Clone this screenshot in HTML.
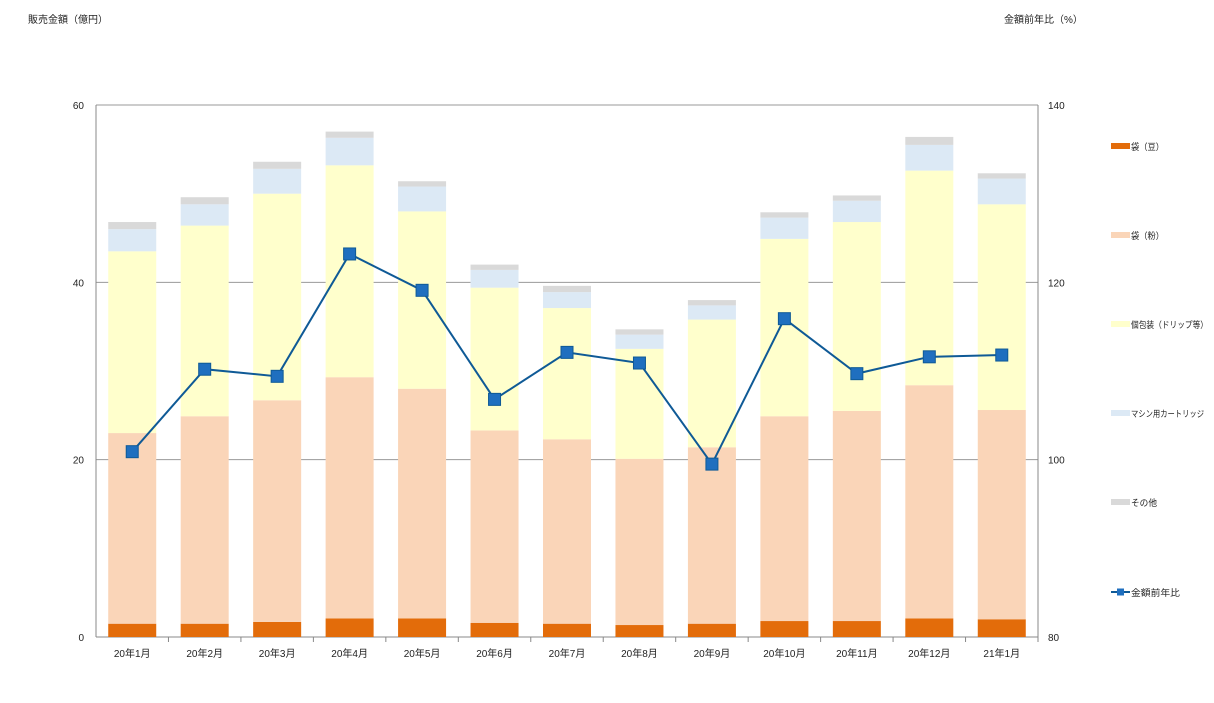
<!DOCTYPE html>
<html><head><meta charset="utf-8">
<style>
html,body{margin:0;padding:0;background:#fff;}
body{width:1214px;height:698px;overflow:hidden;font-family:"Liberation Sans","Noto Sans CJK JP",sans-serif;}
svg text{font-family:"Liberation Sans","Noto Sans CJK JP",sans-serif;font-size:10px;fill:#222;}
</style></head>
<body>
<svg id="chart" width="1214" height="698">
</svg>
<script>
const categories=["20年1月","20年2月","20年3月","20年4月","20年5月","20年6月","20年7月","20年8月","20年9月","20年10月","20年11月","20年12月","21年1月"];
const beans=[1.5,1.5,1.7,2.1,2.1,1.6,1.5,1.35,1.5,1.8,1.8,2.1,2.0];
const powder=[21.5,23.4,25.0,27.2,25.9,21.7,20.8,18.75,19.9,23.1,23.7,26.3,23.6];
const drip=[20.5,21.5,23.3,23.9,20.0,16.1,14.8,12.4,14.4,20.0,21.3,24.2,23.2];
const cartridge=[2.5,2.4,2.8,3.1,2.8,2.0,1.8,1.6,1.6,2.4,2.4,2.9,2.9];
const other=[0.8,0.8,0.8,0.7,0.6,0.6,0.7,0.6,0.6,0.6,0.6,0.9,0.6];
const yoy=[100.9,110.2,109.4,123.2,119.1,106.8,112.1,110.9,99.5,115.9,109.7,111.6,111.8];
const leftTicks=[0,20,40,60];
const rightTicks=[80,100,120,140];

const svg=document.getElementById('chart');
const NS='http://www.w3.org/2000/svg';
const X0=96,X1=1038,Y0=637,Y1=105;
const band=(X1-X0)/categories.length;
const yL=v=>Y0-(v/60)*(Y0-Y1);
const yR=v=>Y0-((v-80)/60)*(Y0-Y1);
const xC=i=>X0+band*(i+0.5);
function mk(tag,attrs,parent){const e=document.createElementNS(NS,tag);for(const k in attrs)e.setAttribute(k,attrs[k]);(parent||svg).appendChild(e);return e;}

leftTicks.forEach(t=>{
  const g=mk('line',{x1:X0,x2:X1,y1:yL(t),y2:yL(t),stroke:t===0?'#888':'#999','stroke-width':1});
  
  
  const tx=mk('text',{x:X0-12,y:yL(t)+4,'text-anchor':'end'});tx.textContent=t;
  
  
});
rightTicks.forEach(t=>{
  const tx=mk('text',{x:X1+10,y:yR(t)+4,'text-anchor':'start'});tx.textContent=t;
  
  
});
const la=mk('line',{x1:X0,x2:X0,y1:Y1,y2:Y0,stroke:'#888'});


const ra=mk('line',{x1:X1,x2:X1,y1:Y1,y2:Y0,stroke:'#888'});



const series=[[beans,'#e36c0a','beans'],[powder,'#fad5b8','powder'],[drip,'#ffffcc','drip'],[cartridge,'#dce9f5','cartridge'],[other,'#d9d9d9','other']];
const bw=48;
categories.forEach((c,i)=>{
  let acc=0;
  series.forEach(([arr,col,nm])=>{
    const top=acc+arr[i];
    const r=mk('rect',{x:xC(i)-bw/2,y:yL(top),width:bw,height:yL(acc)-yL(top),fill:col});
    
    
    acc=top;
  });
  const tl=mk('line',{x1:X0+band*(i+1),x2:X0+band*(i+1),y1:Y0,y2:Y0+5,stroke:'#888'});
  
  
  const tx=mk('text',{x:xC(i),y:Y0+20,'text-anchor':'middle'});tx.textContent=c;
  
  
});

const pts=yoy.map((v,i)=>xC(i)+','+yR(v)).join(' ');
const pl=mk('polyline',{points:pts,fill:'none',stroke:'#0f5a96','stroke-width':2});


yoy.forEach((v,i)=>{
  const m=mk('rect',{x:xC(i)-6,y:yR(v)-6,width:12,height:12,fill:'#1f6fbf',stroke:'#0f5a96','stroke-width':1});
  
  
});

const t1=mk('text',{x:28,y:23});t1.textContent='販売金額（億円）';


const t2=mk('text',{x:1004,y:23});t2.textContent='金額前年比（%）';



const legend=[['袋（豆）','#e36c0a',146,'rect',33],['袋（粉）','#fad5b8',235,'rect',33],['個包装（ドリップ等）','#ffffcc',324,'rect',77],['マシン用カートリッジ','#dce9f5',413,'rect',73],['その他','#d9d9d9',502,'rect',26],['金額前年比','#0f5a96',592,'line',49]];
legend.forEach(([lab,col,y,type,w],k)=>{
  if(type==='rect'){
    const r=mk('rect',{x:1111,y:y-3,width:19,height:6,fill:col});
    
    
  }else{
    const l=mk('line',{x1:1111,x2:1130,y1:y,y2:y,stroke:col,'stroke-width':2});
    
    
    const m=mk('rect',{x:1117,y:y-3.5,width:7,height:7,fill:'#1f6fbf'});
    
    
  }
  const tx=mk('text',{x:1131,y:y+4,style:'font-size:9px',textLength:w,lengthAdjust:'spacingAndGlyphs'});tx.textContent=lab;
  
  
});
</script>
</body></html>
